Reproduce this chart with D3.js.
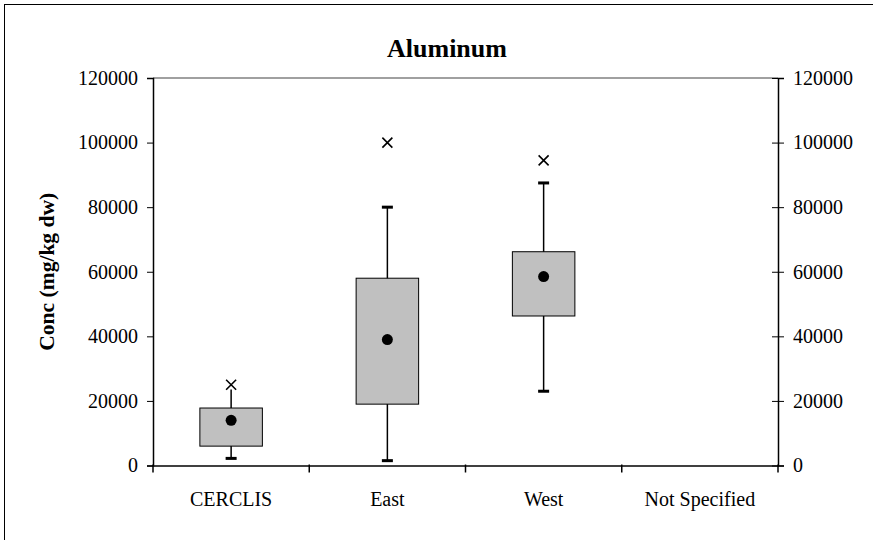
<!DOCTYPE html>
<html>
<head>
<meta charset="utf-8">
<script src="https://cdn.jsdelivr.net/npm/d3@7"></script>
<style>
  body { margin: 0; background: #fff; }
  svg text { font-family: "Liberation Serif", "Times New Roman", serif; fill: #000; }
</style>
</head>
<body>
<div id="chart"></div>
<script>
// data
const categories = ["CERCLIS", "East", "West", "Not Specified"];
const minVals  = [2200, 1500, 23000, null];
const q1Vals   = [6000, 19000, 46300, null];
const meanVals = [14000, 39000, 58500, null];
const q3Vals   = [17800, 58000, 66200, null];
const maxVals  = [23500, 80000, 87500, null];
const outliers = [25000, 100000, 94500, null];
const yTicks = [0, 20000, 40000, 60000, 80000, 100000, 120000];

const W = 873, H = 540;
const plot = {left: 153, right: 778, top: 78, bottom: 465.5};

const svg = d3.select("#chart").append("svg")
    .attr("width", W)
    .attr("height", H);

// outer frame (only top and left are in view)
svg.append("rect")
    .attr("x", 4.5).attr("y", 4.5)
    .attr("width", 1000).attr("height", 1000)
    .attr("fill", "none").attr("stroke", "#000").attr("stroke-width", 1);

const x = d3.scaleBand().domain(categories).range([plot.left, plot.right]).padding(0);
const y = d3.scaleLinear().domain([0, 120000]).range([plot.bottom, plot.top]);

// top border of plot area
svg.append("line")
    .attr("x1", plot.left).attr("x2", plot.right)
    .attr("y1", plot.top).attr("y2", plot.top)
    .attr("stroke", "#808080").attr("stroke-width", 1.5);

// left axis
const yLeft = svg.append("g")
    .attr("transform", `translate(${plot.left},0)`)
    .call(d3.axisLeft(y).tickValues(yTicks).tickSize(6).tickPadding(9).tickFormat(d3.format("d")));
yLeft.select(".domain").attr("stroke-width", 1.5);
yLeft.selectAll("text").style("font-size", "20px");

// right axis, ticks cross the line
const yRight = svg.append("g")
    .attr("transform", `translate(${plot.right},0)`)
    .call(d3.axisRight(y).tickValues(yTicks).tickSize(6).tickPadding(9).tickFormat(d3.format("d")));
yRight.select(".domain").attr("stroke-width", 1.5);
yRight.selectAll(".tick line").attr("x1", -6);
yRight.selectAll("text").style("font-size", "20px");

// bottom axis, ticks at category boundaries
const xAxis = svg.append("g")
    .attr("transform", `translate(0,${plot.bottom})`)
    .call(d3.axisBottom(x).tickSize(0).tickPadding(26));
xAxis.select(".domain").attr("stroke-width", 1.5);
xAxis.selectAll("text").style("font-size", "20px");
xAxis.selectAll(".bound")
    .data([plot.left].concat(categories.map(c => x(c) + x.bandwidth())))
    .enter().append("line")
    .attr("x1", d => d).attr("x2", d => d)
    .attr("y1", -1).attr("y2", 7)
    .attr("stroke", "#000").attr("stroke-width", 1.5);

// boxes
const boxes = categories.map((c, i) => ({
    cat: c, min: minVals[i], q1: q1Vals[i], mean: meanVals[i],
    q3: q3Vals[i], max: maxVals[i], out: outliers[i]
})).filter(d => d.mean != null);

const boxW = x.bandwidth() * 0.4;
const capW = 11;
const g = svg.append("g");
const b = g.selectAll(".box").data(boxes).enter().append("g")
    .attr("transform", d => `translate(${x(d.cat) + x.bandwidth() / 2},0)`);

b.append("line")
    .attr("y1", d => y(d.min)).attr("y2", d => y(d.max))
    .attr("stroke", "#000").attr("stroke-width", 1.5);

b.append("rect")
    .attr("x", -boxW / 2).attr("width", boxW)
    .attr("y", d => y(d.q3)).attr("height", d => y(d.q1) - y(d.q3))
    .attr("fill", "#c0c0c0").attr("stroke", "#000").attr("stroke-width", 1);

// whisker caps (lower one always, upper one where not under the outlier)
b.append("rect")
    .attr("x", -capW / 2).attr("width", capW)
    .attr("y", d => y(d.min) - 1.5).attr("height", 3)
    .attr("fill", "#000");
b.filter(d => y(d.max) - y(d.out) > 10).append("rect")
    .attr("x", -capW / 2).attr("width", capW)
    .attr("y", d => y(d.max) - 1.5).attr("height", 3)
    .attr("fill", "#000");

b.append("circle")
    .attr("cy", d => y(d.mean)).attr("r", 5.5)
    .attr("fill", "#000");

const s = 5;
b.append("path")
    .attr("d", d => `M${-s},${y(d.out) - s}L${s},${y(d.out) + s}M${s},${y(d.out) - s}L${-s},${y(d.out) + s}`)
    .attr("stroke", "#000").attr("stroke-width", 1.6).attr("fill", "none");

// title
svg.append("text")
    .attr("x", 447).attr("y", 57)
    .attr("text-anchor", "middle")
    .style("font-size", "26px").style("font-weight", "bold")
    .text("Aluminum");

// y label
svg.append("text")
    .attr("transform", `translate(54,${(plot.top + plot.bottom) / 2}) rotate(-90)`)
    .attr("text-anchor", "middle")
    .attr("textLength", 158)
    .attr("lengthAdjust", "spacingAndGlyphs")
    .style("font-size", "21px").style("font-weight", "bold")
    .text("Conc (mg/kg dw)");
</script>
</body>
</html>
